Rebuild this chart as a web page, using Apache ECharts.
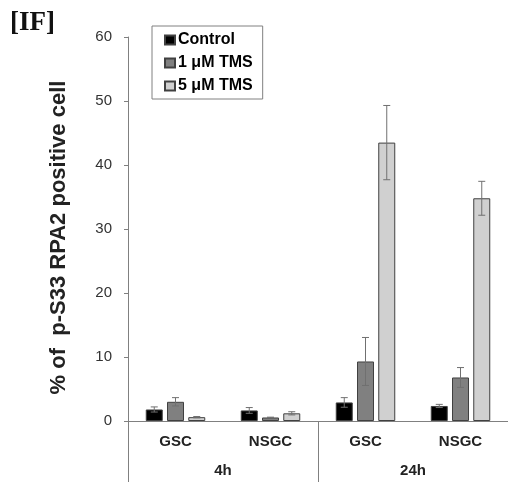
<!DOCTYPE html>
<html><head><meta charset="utf-8">
<script src="https://cdn.jsdelivr.net/npm/echarts@6/dist/echarts.min.js"></script>
<style>html,body{margin:0;padding:0;background:#fff}#c{width:508px;height:482px}</style>
</head><body><div id="c"></div>
<script>
const categories = ['GSC', 'NSGC', 'GSC', 'NSGC'];
const groups = ['4h', '24h'];
const seriesNames = ['Control', '1 μM TMS', '5 μM TMS'];
const control = [1.8, 1.65, 2.9, 2.35];
const controlErr = [0.4, 0.45, 0.75, 0.25];
const tms1 = [3.0, 0.55, 9.3, 6.8];
const tms1Err = [0.65, 0.05, 3.75, 1.55];
const tms5 = [0.6, 1.2, 43.5, 34.8];
const tms5Err = [0.1, 0.25, 5.8, 2.65];
const yTicks = [0, 10, 20, 30, 40, 50, 60];

const values = [control, tms1, tms5];
const errs = [controlErr, tms1Err, tms5Err];
const colors = ['#000000', '#808080', '#d0d0d0'];
const BW = 17, GAP = 4.25;
const FONT = 'Liberation Sans, Arial, sans-serif';

const chart = echarts.init(document.getElementById('c'), null, {renderer: 'canvas'});
const series = [];
values.forEach((vals, k) => {
  series.push({
    name: seriesNames[k], type: 'bar', xAxisIndex: 0, data: vals,
    barWidth: BW, barGap: '25%',
    itemStyle: {color: colors[k], borderColor: '#404040', borderWidth: 1},
    animation: false
  });
});
values.forEach((vals, k) => {
  series.push({
    type: 'custom', xAxisIndex: 0, z: 5, animation: false, silent: true,
    data: vals.map((v, i) => [i, v, errs[k][i]]),
    renderItem: function (params, api) {
      const i = api.value(0), v = api.value(1), e = api.value(2);
      const off = (k - 1) * (BW + GAP);
      const t = api.coord([i, v + e]);
      const b = api.coord([i, v - e]);
      const x = t[0] + off;
      const st = {stroke: '#707070', lineWidth: 1};
      return {type: 'group', children: [
        {type: 'line', shape: {x1: x, y1: t[1], x2: x, y2: b[1]}, style: st},
        {type: 'line', shape: {x1: x - 3.5, y1: t[1], x2: x + 3.5, y2: t[1]}, style: st},
        {type: 'line', shape: {x1: x - 3.5, y1: b[1], x2: x + 3.5, y2: b[1]}, style: st}
      ]};
    }
  });
});

chart.setOption({
  animation: false,
  grid: {left: 128, right: 0, top: 37, bottom: 61, containLabel: false},
  legend: {
    data: seriesNames, orient: 'vertical', left: 152, top: 26,
    itemWidth: 10, itemHeight: 9, itemGap: 7, icon: 'rect',
    padding: [6, 10, 5, 12], borderColor: '#808080', borderWidth: 1,
    textStyle: {fontFamily: FONT, fontWeight: 'bold', fontSize: 16, color: '#000', padding: [0, 0, 0, -2]}
  },
  graphic: [{type: 'text', left: 10, top: 10, style: {text: '[IF]', font: 'bold 27px "Liberation Serif", serif', fill: '#111'}}],
  xAxis: [
    {type: 'category', data: categories, position: 'bottom',
     axisLine: {lineStyle: {color: '#808080', width: 1}}, axisTick: {show: false},
     axisLabel: {margin: 13, fontFamily: FONT, fontWeight: 'bold', fontSize: 15, color: '#222', interval: 0}},
    {type: 'category', data: groups, position: 'bottom', offset: 0,
     axisLine: {show: false}, axisTick: {show: true, length: 62, lineStyle: {color: '#808080'}},
     axisLabel: {margin: 42, fontFamily: FONT, fontWeight: 'bold', fontSize: 15, color: '#222'}}
  ],
  yAxis: {
    type: 'value', min: yTicks[0], max: yTicks[yTicks.length - 1], interval: 10,
    splitLine: {show: false},
    axisLine: {show: true, lineStyle: {color: '#808080'}},
    axisTick: {show: true, inside: false, length: 4, lineStyle: {color: '#808080'}},
    axisLabel: {margin: 16, fontFamily: FONT, fontSize: 15, color: '#333'},
    name: '% of  p-S33 RPA2 positive cell', nameLocation: 'middle', nameGap: 58,
    nameTextStyle: {fontFamily: FONT, fontWeight: 'bold', fontSize: 22, color: '#222', padding: [0, 17, 0, 0]}
  },
  series: series
});
</script></body></html>
